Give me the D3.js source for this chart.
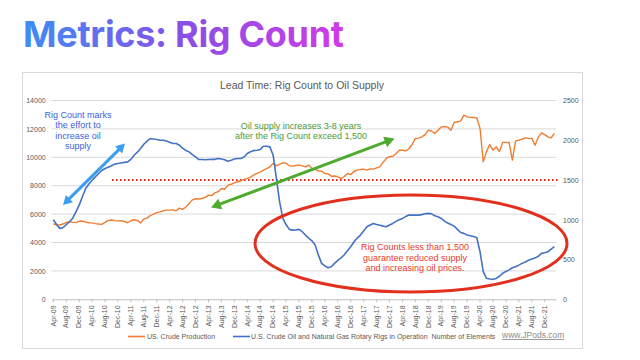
<!DOCTYPE html>
<html><head><meta charset="utf-8">
<script src="https://cdn.jsdelivr.net/npm/d3@7"></script>
<style>
html,body{margin:0;padding:0;background:#fff;}
svg{display:block;}
</style></head>
<body>
<svg id="c" width="640" height="360"></svg>
<script>
// ---- Data ----
const startMonth = "2009-04";
const endMonth = "2022-03";
const tickLabels = ["Apr-09","Aug-09","Dec-09","Apr-10","Aug-10","Dec-10","Apr-11","Aug-11","Dec-11","Apr-12","Aug-12","Dec-12","Apr-13","Aug-13","Dec-13","Apr-14","Aug-14","Dec-14","Apr-15","Aug-15","Dec-15","Apr-16","Aug-16","Dec-16","Apr-17","Aug-17","Dec-17","Apr-18","Aug-18","Dec-18","Apr-19","Aug-19","Dec-19","Apr-20","Aug-20","Dec-20","Apr-21","Aug-21","Dec-21"];
// US crude production (thousand b/d), monthly Apr-09 .. Mar-22 (left axis)
const crudeProduction = [
 5300,5250,5230,5300,5420,5460,5420,5400,5500,5510,5440,5390,
 5380,5330,5300,5280,5420,5560,5580,5540,5520,5540,5480,5390,
 5530,5600,5560,5380,5650,5720,5900,6000,6100,6160,6240,6280,
 6280,6300,6230,6420,6330,6500,6750,7000,7080,7060,7100,7180,
 7340,7300,7500,7580,7800,7750,8040,8100,8200,8280,8350,8450,
 8520,8600,8750,8870,8950,9100,9200,9330,9570,9400,9500,9610,
 9580,9400,9380,9420,9450,9400,9330,9450,9220,9150,9050,9030,
 8860,8830,8670,8680,8630,8500,8650,8860,8780,9000,9100,9150,
 9170,9100,9180,9170,9250,9330,9640,9920,10040,10070,10250,10500,
 10500,10450,10600,10900,11330,11350,11440,11600,11910,11850,11680,11900,
 12140,12150,12140,11910,12450,12500,12550,12970,12850,12810,12800,12780,
 12030,9680,10400,10900,10500,10740,10400,11050,11050,11040,9800,11160,
 11200,11280,11370,11330,11330,10850,11400,11720,11600,11440,11370,11680];
// Rotary rigs in operation, monthly Apr-09 .. Mar-22 (right axis)
const rigCount = [
 1000,940,892,900,940,975,1020,1100,1184,1290,1394,1450,
 1498,1540,1582,1620,1645,1660,1680,1700,1708,1715,1722,1728,
 1760,1812,1850,1897,1950,1990,2022,2015,2010,2000,2000,1990,
 1975,1959,1960,1938,1900,1870,1854,1820,1790,1758,1758,1755,
 1758,1760,1760,1771,1765,1755,1737,1750,1765,1771,1771,1790,
 1834,1855,1870,1875,1885,1925,1925,1917,1812,1520,1226,1017,
 940,879,870,872,879,850,808,770,736,682,556,452,
 420,397,410,452,490,520,560,610,661,720,770,808,
 860,912,935,954,940,930,920,912,935,954,980,1000,
 1017,1040,1059,1060,1059,1059,1065,1075,1080,1075,1050,1038,
 1017,983,960,940,920,880,840,829,808,800,790,774,
 598,347,264,255,251,262,290,327,350,370,397,410,
 430,452,470,490,506,520,540,578,585,598,630,661];
const leftTicks = [0,2000,4000,6000,8000,10000,12000,14000];
const rightTicks = [0,500,1000,1500,2000,2500];
const thresholdRigs = 1500;
const seriesNames = ["US. Crude Production","U.S. Crude Oil and Natural Gas Rotary Rigs in Operation  Number of Elements"];

// ---- Build ----
const parse = d3.timeParse("%Y-%m");
const fmt = d3.timeFormat("%b-%y");
const months = d3.timeMonth.range(parse(startMonth), d3.timeMonth.offset(parse(endMonth),1));
const cats = months.map(fmt);

const svg = d3.select("#c");
const defs = svg.append("defs");
const grad = defs.append("linearGradient").attr("id","tg").attr("gradientUnits","userSpaceOnUse")
  .attr("x1",24).attr("x2",343).attr("y1",0).attr("y2",0);
grad.append("stop").attr("offset","0%").attr("stop-color","#3f8cf5");
grad.append("stop").attr("offset","50%").attr("stop-color","#8a4fe6");
grad.append("stop").attr("offset","100%").attr("stop-color","#d03be6");

svg.append("text").attr("x",23).attr("y",47).attr("font-family","Inter, 'Noto Sans', sans-serif")
  .attr("font-weight",700).attr("font-size",36).attr("letter-spacing","-0.3")
  .attr("fill","url(#tg)").text("Metrics: Rig Count");

// chart box
svg.append("rect").attr("x",22.5).attr("y",72.5).attr("width",560).attr("height",276)
  .attr("fill","#fff").attr("stroke","#d9d9d9");

const font = "'Liberation Sans', Arial, sans-serif";

svg.append("text").attr("x",302).attr("y",89).attr("text-anchor","middle")
  .attr("font-family",font).attr("font-size",10.5).attr("fill","#595959")
  .text("Lead Time: Rig Count to Oil Supply");

const L = 51.7, R = 556, T = 100.5, B = 299.3;
const x = d3.scaleBand().domain(cats).range([L,R]);
const xc = c => x(c) + x.bandwidth()/2;
const yL = d3.scaleLinear().domain([0,14000]).range([B,T]);
const yR = d3.scaleLinear().domain([0,2500]).range([B,T]);

// gridlines
svg.append("g").selectAll("line").data(leftTicks.slice(1)).join("line")
  .attr("x1",L).attr("x2",R).attr("y1",d=>yL(d)).attr("y2",d=>yL(d))
  .attr("stroke","#d9d9d9").attr("stroke-width",1);

// left axis
const gl = svg.append("g").attr("transform",`translate(${L},0)`)
  .call(d3.axisLeft(yL).tickValues(leftTicks).tickSize(0).tickPadding(6).tickFormat(d3.format("d")));
gl.select(".domain").remove();
gl.selectAll("text").attr("font-family",font).attr("font-size",7).attr("fill","#595959");

// right axis
const gr = svg.append("g").attr("transform",`translate(${R},0)`)
  .call(d3.axisRight(yR).tickValues(rightTicks).tickSize(0).tickPadding(7).tickFormat(d3.format("d")));
gr.select(".domain").remove();
gr.selectAll("text").attr("font-family",font).attr("font-size",7).attr("fill","#595959");

// bottom axis
const gb = svg.append("g").attr("transform",`translate(0,${B})`)
  .call(d3.axisBottom(x).tickValues(tickLabels).tickSize(3).tickSizeOuter(0));
gb.select(".domain").attr("stroke","#bfbfbf");
gb.selectAll(".tick line").attr("stroke","#bfbfbf");
gb.selectAll("text").attr("font-family",font).attr("font-size",7).attr("fill","#595959")
  .attr("transform","rotate(-90)").attr("text-anchor","end").attr("dy","0.32em").attr("dx","-0.3em").attr("y",0).attr("x",-4);

// threshold dotted line
svg.append("line").attr("x1",112).attr("x2",558).attr("y1",yR(thresholdRigs)).attr("y2",yR(thresholdRigs))
  .attr("stroke","#e8281e").attr("stroke-width",2).attr("stroke-dasharray","1.6 2.4");

// lines
const lineL = d3.line().x((d,i)=>xc(cats[i])).y(d=>yL(d));
const lineR = d3.line().x((d,i)=>xc(cats[i])).y(d=>yR(d));
svg.append("path").datum(crudeProduction).attr("d",lineL).attr("fill","none")
  .attr("stroke","#ed7d31").attr("stroke-width",1.4).attr("stroke-linejoin","round");
svg.append("path").datum(rigCount).attr("d",lineR).attr("fill","none")
  .attr("stroke","#4472c4").attr("stroke-width",1.6).attr("stroke-linejoin","round");

// arrows
function dblArrow(x1,y1,x2,y2,color,w,hl,hw){
  const dx=x2-x1, dy=y2-y1, len=Math.hypot(dx,dy), ux=dx/len, uy=dy/len, px=-uy, py=ux;
  svg.append("line").attr("x1",x1+ux*hl*0.8).attr("y1",y1+uy*hl*0.8).attr("x2",x2-ux*hl*0.8).attr("y2",y2-uy*hl*0.8)
    .attr("stroke",color).attr("stroke-width",w);
  const head=(tx,ty,s)=>{
    const bx=tx-s*ux*hl, by=ty-s*uy*hl;
    svg.append("polygon").attr("points",`${tx},${ty} ${bx+px*hw},${by+py*hw} ${bx-px*hw},${by-py*hw}`).attr("fill",color);
  };
  head(x2,y2,1); head(x1,y1,-1);
}
dblArrow(63,205,125,143.5,"#3c9ef0",3,9,5);
dblArrow(211,207.5,394.5,138.5,"#4eab2f",3,10,5.5);

// ellipse
svg.append("ellipse").attr("cx",411).attr("cy",243.5).attr("rx",156).attr("ry",48.5)
  .attr("fill","none").attr("stroke","#e2301f").attr("stroke-width",3);

// annotation texts
function multi(lines,cx,y0,lh,color,size){
  const t=svg.append("text").attr("text-anchor","middle").attr("font-family",font).attr("font-size",size).attr("fill",color);
  lines.forEach((s,i)=>t.append("tspan").attr("x",cx).attr("y",y0+i*lh).text(s));
}
multi(["Rig Count marks","the effort to","increase oil","supply"],78,117.5,10.6,"#3c5fe0",9);
multi(["Oil supply increases 3-8 years","after the Rig Count exceed 1,500"],301,128.5,10.5,"#4a9a3c",9);
multi(["Rig Counts less than 1,500","guarantee reduced supply","and increasing oil prices."],415,250,10.5,"#e8392b",9);

// legend
const lg = svg.append("g");
lg.append("line").attr("x1",128).attr("x2",145).attr("y1",336.5).attr("y2",336.5).attr("stroke","#ed7d31").attr("stroke-width",1.6);
lg.append("text").attr("x",147).attr("y",339).attr("font-family",font).attr("font-size",7).attr("fill","#595959").text(seriesNames[0]);
lg.append("line").attr("x1",233).attr("x2",250).attr("y1",336.5).attr("y2",336.5).attr("stroke","#4472c4").attr("stroke-width",1.6);
lg.append("text").attr("x",251).attr("y",339).attr("font-family",font).attr("font-size",7).attr("fill","#595959").attr("xml:space","preserve").text(seriesNames[1]);

svg.append("text").attr("x",502).attr("y",338).attr("font-family",font).attr("font-size",8.5).attr("fill","#8c8c8c")
  .attr("text-decoration","underline").text("www.JPods.com");
</script>
</body></html>
